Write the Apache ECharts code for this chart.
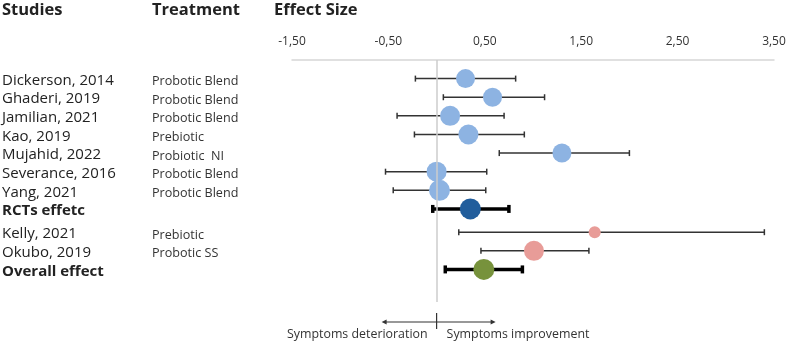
<!DOCTYPE html>
<html>
<head>
<meta charset="utf-8">
<script src="https://cdn.jsdelivr.net/npm/echarts@6/dist/echarts.min.js"></script>
<style>
  html, body { margin: 0; padding: 0; background: #fff; }
  #chart { width: 789px; height: 343px; }
</style>
</head>
<body>
<div id="chart"></div>
<script>
// forest plot data
var studies = ["Dickerson, 2014", "Ghaderi, 2019", "Jamilian, 2021", "Kao, 2019", "Mujahid, 2022",
  "Severance, 2016", "Yang, 2021", "RCTs effetc", "Kelly, 2021", "Okubo, 2019", "Overall effect"];
var treatments = ["Probotic Blend", "Probotic Blend", "Probotic Blend", "Prebiotic", "Probiotic  NI",
  "Probotic Blend", "Probotic Blend", "", "Prebiotic", "Probotic SS", ""];
var effect = [0.30, 0.58, 0.14, 0.33, 1.30, 0.00, 0.03, 0.35, 1.64, 1.01, 0.49];
var lower = [-0.22, 0.07, -0.41, -0.23, 0.65, -0.53, -0.45, -0.04, 0.23, 0.46, 0.09];
var upper = [0.82, 1.12, 0.70, 0.91, 2.00, 0.52, 0.51, 0.75, 3.40, 1.58, 0.89];
var kind = ["rct", "rct", "rct", "rct", "rct", "rct", "rct", "pooled", "other", "other", "overall"];

// styles
var colors = { rct: "#8db3e2", pooled: "#215d9c", other: "#e89c98", overall: "#77923c" };
var markerSize = [19, 19, 20, 20, 19, 20, 21, 21, 12, 20, 21];
var font = "'Open Sans', sans-serif";

function rowPos(i) { return i + (i >= 8 ? 0.25 : 0); }
function fmt(v) { return v.toFixed(2).replace(".", ","); }

var barData = studies.map(function (s, i) { return [lower[i], upper[i], rowPos(i), i]; });
var pointData = studies.map(function (s, i) {
  return { value: [effect[i], rowPos(i), i], itemStyle: { color: colors[kind[i]], opacity: 1 } };
});

var chart = echarts.init(document.getElementById("chart"));

var option = {
  animation: false,
  grid: { left: 292, right: 15, top: 60, bottom: 41 },
  xAxis: {
    type: "value",
    position: "top",
    min: -1.5,
    max: 3.5,
    interval: 1,
    axisLine: { show: true, onZero: false, lineStyle: { color: "#d6d6d6", width: 1.5 } },
    axisTick: { show: false },
    splitLine: { show: false },
    axisLabel: { margin: 12, fontSize: 12, color: "#333", fontFamily: font, formatter: fmt }
  },
  yAxis: { type: "value", inverse: true, min: -1, max: 12, show: false },
  series: [
    {
      type: "custom",
      z: 2,
      clip: false,
      encode: { x: [0, 1], y: 2 },
      data: barData,
      renderItem: function (params, api) {
        var i = api.value(3);
        var a = api.coord([api.value(0), api.value(2)]);
        var b = api.coord([api.value(1), api.value(2)]);
        var bold = kind[i] === "pooled" || kind[i] === "overall";
        var w = bold ? 3.5 : 1.5;
        var h = bold ? 4 : 3;
        var st = { stroke: bold ? "#000" : "#333", lineWidth: w };
        var children = [
          { type: "line", shape: { x1: a[0], y1: a[1], x2: b[0], y2: b[1] }, style: st },
          { type: "line", shape: { x1: a[0], y1: a[1] - h, x2: a[0], y2: a[1] + h }, style: st },
          { type: "line", shape: { x1: b[0], y1: b[1] - h, x2: b[0], y2: b[1] + h }, style: st },
          {
            type: "text",
            style: {
              text: studies[i], x: 2, y: a[1] + 2, verticalAlign: "middle",
              font: (bold ? "bold " : "") + "15px " + font, fill: "#222"
            }
          },
          {
            type: "text",
            style: {
              text: treatments[i], x: 152, y: a[1] + 3, verticalAlign: "middle",
              font: "12.6px " + font, fill: "#333"
            }
          }
        ];
        return { type: "group", children: children };
      }
    },
    {
      type: "scatter",
      z: 3,
      data: pointData,
      symbolSize: function (v) { return markerSize[v[2]]; },
      markLine: {
        silent: true,
        symbol: "none",
        label: { show: false },
        lineStyle: { color: "#cccccc", width: 1.5, type: "solid" },
        data: [{ xAxis: 0 }]
      }
    }
  ]
};
chart.setOption(option);

// headers and the arrows under the plot, centred on the zero line
var x0 = chart.convertToPixel({ xAxisIndex: 0 }, 0);
var ay = 322;
var hdr = "bold 16.5px " + font;
var note = "12.4px " + font;
chart.setOption({
  graphic: [
    { type: "text", style: { text: "Studies", x: 2, y: 10, verticalAlign: "middle", font: hdr, fill: "#222" } },
    { type: "text", style: { text: "Treatment", x: 152, y: 10, verticalAlign: "middle", font: hdr, fill: "#222" } },
    { type: "text", style: { text: "Effect Size", x: 274, y: 10, verticalAlign: "middle", font: hdr, fill: "#222" } },
    { type: "line", shape: { x1: x0 - 52, y1: ay, x2: x0 + 56, y2: ay }, style: { stroke: "#333", lineWidth: 1.2 } },
    { type: "line", shape: { x1: x0, y1: 313, x2: x0, y2: 329 }, style: { stroke: "#333", lineWidth: 1.2 } },
    { type: "polygon", shape: { points: [[x0 - 55, ay], [x0 - 50, ay - 2.5], [x0 - 50, ay + 2.5]] }, style: { fill: "#333" } },
    { type: "polygon", shape: { points: [[x0 + 59, ay], [x0 + 54, ay - 2.5], [x0 + 54, ay + 2.5]] }, style: { fill: "#333" } },
    { type: "text", style: { text: "Symptoms deterioration", x: x0 - 9, y: 334, align: "right", verticalAlign: "middle", font: note, fill: "#333" } },
    { type: "text", style: { text: "Symptoms improvement", x: x0 + 10, y: 334, align: "left", verticalAlign: "middle", font: note, fill: "#333" } }
  ]
});
</script>
</body>
</html>
